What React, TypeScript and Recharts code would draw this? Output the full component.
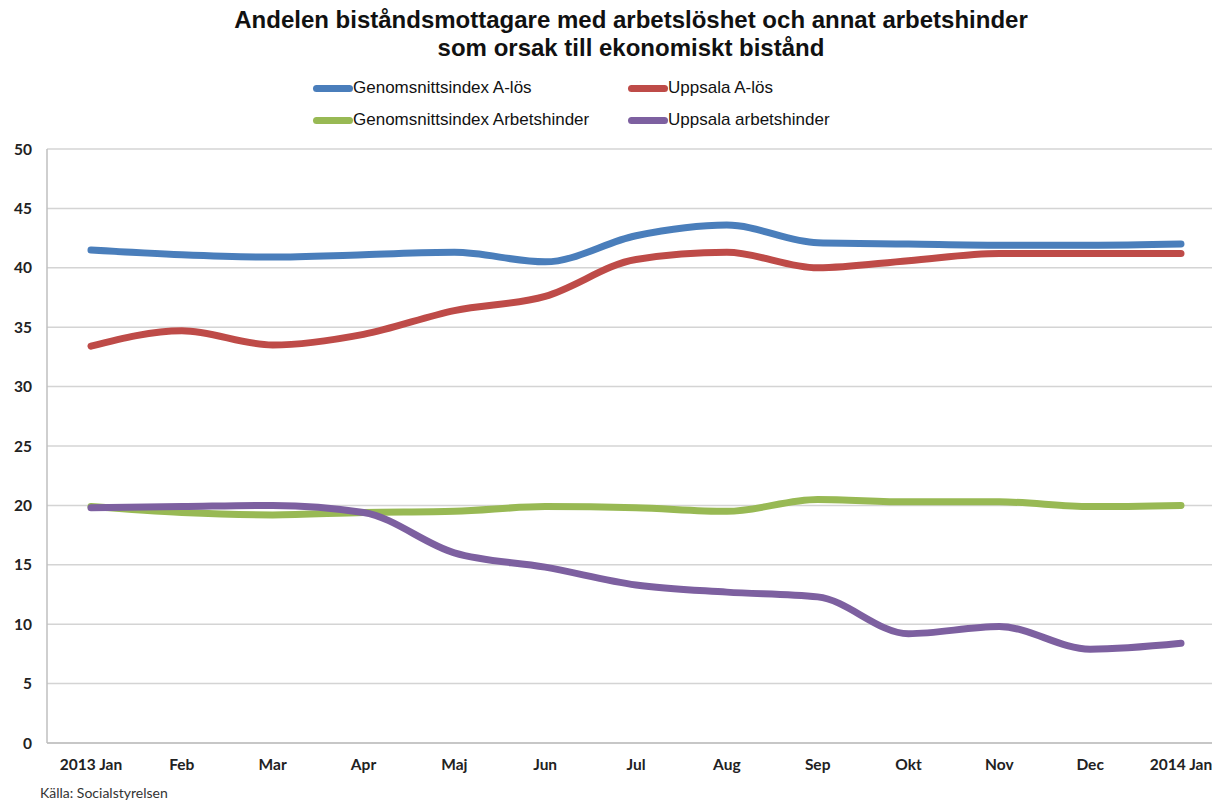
import React from 'react';
import { LineChart, Line, XAxis, YAxis, CartesianGrid } from 'recharts';

const months = ['2013 Jan', 'Feb', 'Mar', 'Apr', 'Maj', 'Jun', 'Jul', 'Aug', 'Sep', 'Okt', 'Nov', 'Dec', '2014 Jan'];
const snittALos = [41.5, 41.1, 40.9, 41.1, 41.3, 40.5, 42.7, 43.6, 42.1, 42.0, 41.9, 41.9, 42.0];
const uppsalaALos = [33.4, 34.7, 33.5, 34.4, 36.4, 37.6, 40.7, 41.3, 40.0, 40.6, 41.2, 41.2, 41.2];
const snittHinder = [19.9, 19.4, 19.2, 19.4, 19.5, 19.9, 19.8, 19.5, 20.5, 20.3, 20.3, 19.9, 20.0];
const uppsalaHinder = [19.8, 19.9, 20.0, 19.4, 16.0, 14.8, 13.3, 12.7, 12.3, 9.2, 9.8, 7.9, 8.4];
const yTicks = [0, 5, 10, 15, 20, 25, 30, 35, 40, 45, 50];

const series = [
  { key: 'snittALos', name: 'Genomsnittsindex A-lös', color: '#4a7ebb' },
  { key: 'uppsalaALos', name: 'Uppsala A-lös', color: '#be4b48' },
  { key: 'snittHinder', name: 'Genomsnittsindex Arbetshinder', color: '#98b954' },
  { key: 'uppsalaHinder', name: 'Uppsala arbetshinder', color: '#7d60a0' },
];

const data = months.map((m, i) => ({
  month: m,
  snittALos: snittALos[i],
  uppsalaALos: uppsalaALos[i],
  snittHinder: snittHinder[i],
  uppsalaHinder: uppsalaHinder[i],
}));

const tickFont = { fontFamily: 'Lato', fontWeight: 700, fontSize: 15.5, fill: '#222' };

function LegendBox() {
  return (
    <div style={{ position: 'absolute', top: 77, left: 313, display: 'grid', gridTemplateColumns: '315px 240px', rowGap: 10, fontFamily: 'Liberation Sans', fontSize: 17, color: '#111' }}>
      {series.map(s => (
        <div key={s.key} style={{ display: 'flex', alignItems: 'center', height: 22 }}>
          <span style={{ display: 'inline-block', width: 40, height: 7, borderRadius: 4, background: s.color }} />
          <span>{s.name}</span>
        </div>
      ))}
    </div>
  );
}

export default function App() {
  return (
    <div style={{ position: 'absolute', left: 0, top: 0, width: 1212, height: 803, overflow: 'hidden', background: '#fff' }}>
      <div style={{ position: 'absolute', top: 6, left: 0, width: 1262, textAlign: 'center', fontFamily: 'Liberation Sans', fontWeight: 700, fontSize: 24, lineHeight: '28px', color: '#111' }}>
        Andelen biståndsmottagare med arbetslöshet och annat arbetshinder<br />som orsak till ekonomiskt bistånd
      </div>
      <LegendBox />
      <LineChart width={1212} height={803} data={data} margin={{ top: 149, right: 0, bottom: 30, left: 0 }}>
        <CartesianGrid vertical={false} stroke="#d4d4d4" strokeWidth={1.5} />
        <XAxis dataKey="month" scale="point" padding={{ left: 44, right: 31 }} height={30} tickLine={false} tickSize={0} tickMargin={16}
          axisLine={{ stroke: '#bfbfbf', strokeWidth: 1.5 }} tick={tickFont} interval={0} />
        <YAxis domain={[0, 50]} ticks={yTicks} width={47} tickLine={false} tickSize={0} tickMargin={15}
          axisLine={{ stroke: '#bfbfbf', strokeWidth: 1.5 }} tick={tickFont} />
        {series.map(s => (
          <Line key={s.key} type="monotone" dataKey={s.key} name={s.name} stroke={s.color} strokeWidth={7}
            strokeLinecap="round" dot={false} activeDot={false} isAnimationActive={false} />
        ))}
      </LineChart>
      <div style={{ position: 'absolute', top: 784, left: 40, fontFamily: 'Lato', fontSize: 14, lineHeight: '17px', color: '#333' }}>Källa: Socialstyrelsen</div>
    </div>
  );
}
